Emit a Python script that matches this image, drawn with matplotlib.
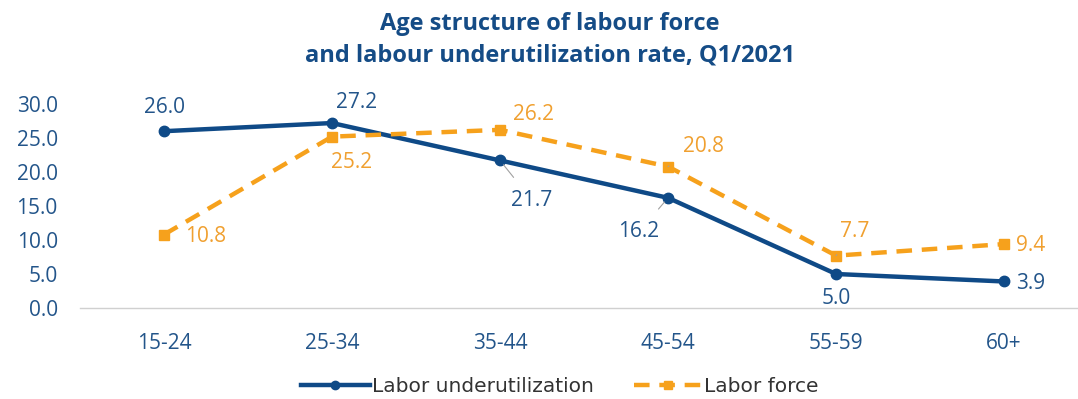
import matplotlib
matplotlib.use("Agg")
import matplotlib.pyplot as plt

plt.rcParams['font.family'] = ['Open Sans', 'DejaVu Sans']

categories = ["15-24", "25-34", "35-44", "45-54", "55-59", "60+"]
underutilization = [26.0, 27.2, 21.7, 16.2, 5.0, 3.9]
labor_force = [10.8, 25.2, 26.2, 20.8, 7.7, 9.4]
yticks = [0, 5, 10, 15, 20, 25, 30]

BLUE = "#0f4a87"
TEXT_BLUE = "#23558a"
ORANGE = "#f6a11c"
ORANGE_TEXT = "#f0a030"
FS = 15

fig = plt.figure(figsize=(10.78, 3.99), dpi=100)
ax = fig.add_axes([80 / 1078, 1 - 308 / 399, 1 - 80 / 1078, (308 - 104) / 399])

x = list(range(len(categories)))
ax.plot(x, underutilization, color=BLUE, lw=3.2, marker="o", ms=7.5,
        label="Labor underutilization", zorder=3, clip_on=False)
ax.plot(x, labor_force, color=ORANGE, lw=3.2, ls=(0, (3.5, 2.2)), marker="s",
        ms=7.5, label="Labor force", zorder=4, clip_on=False)

ax.set_xlim(-0.5, 5.44)
ax.set_ylim(0, 30)
ax.set_yticks(yticks)
ax.set_yticklabels([f"{v:.1f}" for v in yticks])
ax.set_xticks(x)
ax.set_xticklabels(categories)

for s in ["top", "right", "left"]:
    ax.spines[s].set_visible(False)
ax.spines["bottom"].set_color("#d0d0d0")
ax.spines["bottom"].set_linewidth(1)
ax.tick_params(axis="both", length=0, labelsize=FS, labelcolor=TEXT_BLUE)
ax.tick_params(axis="x", pad=18)
ax.tick_params(axis="y", pad=16)

# value labels: (offset x, offset y) in pixels, with optional leader line
blue_offsets = [(0, 24, False), (25, 21, False), (32, -40, True),
                (-29, -34, True), (0, -24, False), (27, -2, False)]
orange_offsets = [(42, -2, False), (20, -26, False), (33, 15, False),
                  (35, 20, True), (19, 24, True), (27, -1, False)]


def label_series(values, offsets, color):
    for xi, (v, (dx, dy, lead)) in enumerate(zip(values, offsets)):
        kw = {}
        if lead:
            kw["arrowprops"] = dict(arrowstyle="-", color="#a0a0a0", lw=0.8,
                                    shrinkA=9, shrinkB=4)
        ax.annotate(f"{v:.1f}", (xi, v), xytext=(dx, dy),
                    textcoords="offset pixels", ha="center", va="center",
                    fontsize=FS, color=color, zorder=5,
                    annotation_clip=False, **kw)


label_series(underutilization, blue_offsets, TEXT_BLUE)
label_series(labor_force, orange_offsets, ORANGE_TEXT)

fig.text(550 / 1078, 1 - 40 / 399,
         "Age structure of labour force\nand labour underutilization rate, Q1/2021",
         ha="center", va="center", fontsize=17, fontweight="bold",
         color="#154c86", linespacing=1.4)

fig.legend(loc="center", bbox_to_anchor=(560 / 1078, 1 - 387 / 399), ncol=2,
           frameon=False, handlelength=3.4, handletextpad=0.1,
           columnspacing=2.0, labelcolor="#333333", markerscale=0.8,
           prop={"family": "DejaVu Sans", "size": 14.5})

fig.savefig("out.png", dpi=100, facecolor="white")
